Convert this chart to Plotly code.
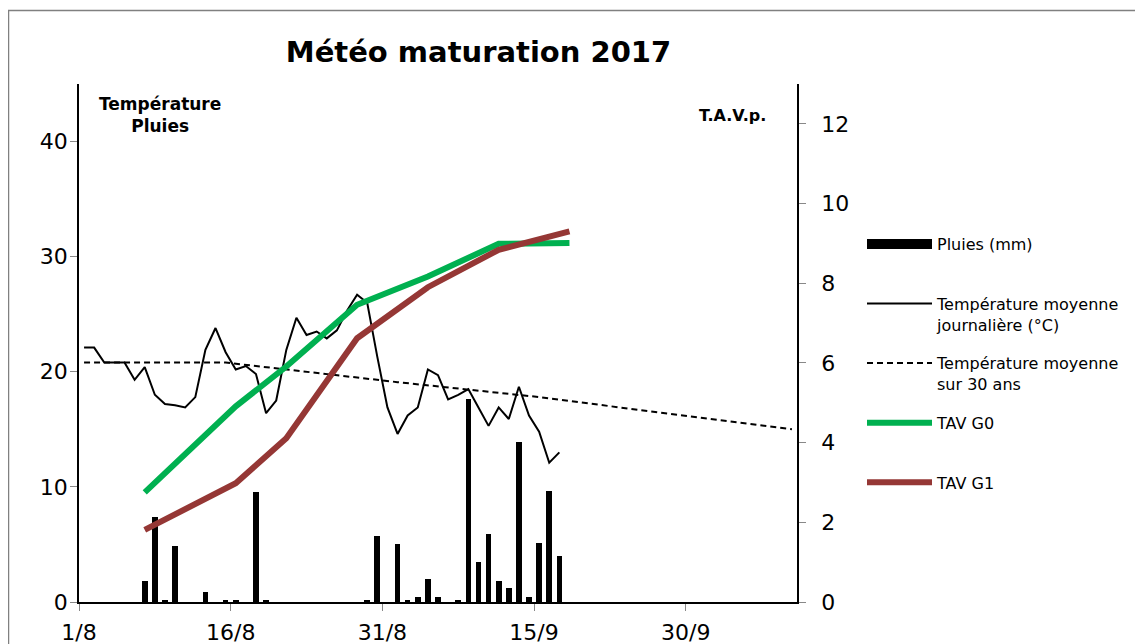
import pandas as pd
import plotly.graph_objects as go

# ---------------- data ----------------
start_day = "2017-08-01 12:00"
temp_daily = [22.1, 22.1, 20.8, 20.8, 20.8, 19.3, 20.4, 18.0, 17.2, 17.1,
              16.9, 17.8, 21.9, 23.8, 21.7, 20.2, 20.5, 19.8, 16.4, 17.5,
              21.9, 24.7, 23.2, 23.5, 22.9, 23.6, 25.3, 26.7, 26.0, 21.3,
              16.9, 14.6, 16.2, 16.9, 20.2, 19.7, 17.6, 18.0, 18.5, 16.9,
              15.3, 16.9, 15.9, 18.7, 16.2, 14.8, 12.1, 13.0]
rain_daily = [0, 0, 0, 0, 0, 0, 1.8, 7.35, 0.2, 4.85,
              0, 0, 0.9, 0, 0.2, 0.2, 0, 9.55, 0.2, 0,
              0, 0, 0, 0, 0, 0, 0, 0, 0.2, 5.7,
              0, 5.05, 0.2, 0.4, 2.0, 0.4, 0, 0.2, 17.6, 3.5,
              5.95, 1.8, 1.25, 13.9, 0.4, 5.1, 9.6, 4.0]
days = pd.date_range(start_day, periods=len(temp_daily), freq="D")

normal_dates = ["2017-08-01 12:00", "2017-08-15 12:00", "2017-09-01 12:00",
                "2017-09-15 12:00", "2017-10-01 12:00", "2017-10-10 12:00"]
normal_temp = [20.8, 20.8, 19.1, 17.8, 16.0, 15.0]

tav_dates = ["2017-08-07 12:00", "2017-08-16 12:00", "2017-08-21 12:00",
             "2017-08-28 12:00", "2017-09-04 12:00", "2017-09-11 12:00",
             "2017-09-18 12:00"]
tav_g0 = [2.75, 4.91, 5.91, 7.46, 8.17, 8.99, 9.01]
tav_g1 = [1.81, 2.98, 4.11, 6.62, 7.90, 8.84, 9.30]

tick_dates = ["2017-08-01", "2017-08-16", "2017-08-31", "2017-09-15", "2017-09-30"]
tick_labels = ["1/8", "16/8", "31/8", "15/9", "30/9"]

# ---------------- figure ----------------
FONT = "DejaVu Sans"
GREEN = "#00B050"
RED = "#953735"
DAY_MS = 86400000
OFF = 8  # page body margin

fig = go.Figure()

fig.add_trace(go.Bar(x=days, y=rain_daily, width=0.56 * DAY_MS,
                     marker=dict(color="black", line=dict(width=0)),
                     name="Pluies (mm)", showlegend=False, yaxis="y"))
# legend entry for rain (wide black rectangle)
fig.add_trace(go.Scatter(x=[None], y=[None], mode="lines",
                         line=dict(color="black", width=10),
                         name="Pluies (mm)<br> ", legendgroup="a"))
fig.add_trace(go.Scatter(x=days, y=temp_daily, mode="lines",
                         line=dict(color="black", width=2),
                         name="Température moyenne<br>journalière (°C)",
                         legendgroup="b"))
fig.add_trace(go.Scatter(x=normal_dates, y=normal_temp, mode="lines",
                         line=dict(color="black", width=2, dash="6px,4px"),
                         name="Température moyenne<br>sur 30 ans",
                         legendgroup="c"))
fig.add_trace(go.Scatter(x=tav_dates, y=tav_g0, mode="lines",
                         line=dict(color=GREEN, width=6),
                         name="TAV G0<br> ", legendgroup="d", yaxis="y2"))
fig.add_trace(go.Scatter(x=tav_dates, y=tav_g1, mode="lines",
                         line=dict(color=RED, width=6),
                         name="TAV G1<br> ", legendgroup="e", yaxis="y2"))

# page coordinates of the plot area
L, T, R, B = 79, 84, 797, 602
W, H = 1143 - OFF, 644 - OFF
pw, ph = R - L, B - T


def px(x):
    return (x - L) / pw


def py(y):
    return (B - y) / ph


axis_common = dict(showgrid=False, zeroline=False, automargin=False,
                   showline=True, linecolor="black", linewidth=1.5,
                   ticks="outside", ticklen=7, tickcolor="#888888", tickwidth=1,
                   tickfont=dict(family=FONT, size=22, color="black"))

fig.update_layout(
    template="none",
    width=W, height=H,
    margin=dict(l=L - OFF, r=W - (R - OFF), t=T - OFF, b=H - (B - OFF), pad=0, autoexpand=False),
    paper_bgcolor="white", plot_bgcolor="white",
    font=dict(family=FONT, color="black", size=16),
    showlegend=True,
    bargap=0,
    title=dict(text="<b>Météo maturation 2017</b>", font=dict(family=FONT, size=29, color="black"),
               x=px(478.5), xref="paper", xanchor="center",
               y=1 - (52 - OFF) / H, yref="container", yanchor="middle"),
    xaxis=dict(type="date", range=["2017-08-01", "2017-10-11"],
               tickvals=tick_dates, ticktext=tick_labels,
               ticklabelstandoff=3, **axis_common),
    yaxis=dict(range=[0, 45], tickvals=[0, 10, 20, 30, 40],
               ticklabelstandoff=-2, **axis_common),
    yaxis2=dict(range=[0, 13], tickvals=[0, 2, 4, 6, 8, 10, 12],
                overlaying="y", side="right", anchor="x",
                ticklabelstandoff=11, **axis_common),
    legend=dict(x=px(862), xanchor="left", y=py(227), yanchor="top",
                bgcolor="rgba(0,0,0,0)", borderwidth=0,
                font=dict(family=FONT, size=16, color="black"),
                itemwidth=65, valign="top", tracegroupgap=15,
                traceorder="grouped", itemclick=False),
    annotations=[
        dict(text="<b>Température<br>Pluies</b>", xref="paper", yref="paper",
             x=px(160), y=py(92), xanchor="center", yanchor="top",
             showarrow=False, font=dict(family=FONT, size=17, color="black")),
        dict(text="<b>T.A.V.p.</b>", xref="paper", yref="paper",
             x=px(732), y=py(115), xanchor="center", yanchor="middle",
             showarrow=False, font=dict(family=FONT, size=16, color="black")),
    ],
    shapes=[
        dict(type="rect", xref="paper", yref="paper",
             x0=px(8.5), x1=px(1170), y0=py(680), y1=py(10.5),
             line=dict(color="#808080", width=1.5), fillcolor="rgba(0,0,0,0)",
             layer="below"),
    ],
)

fig.write_html("out.html")
